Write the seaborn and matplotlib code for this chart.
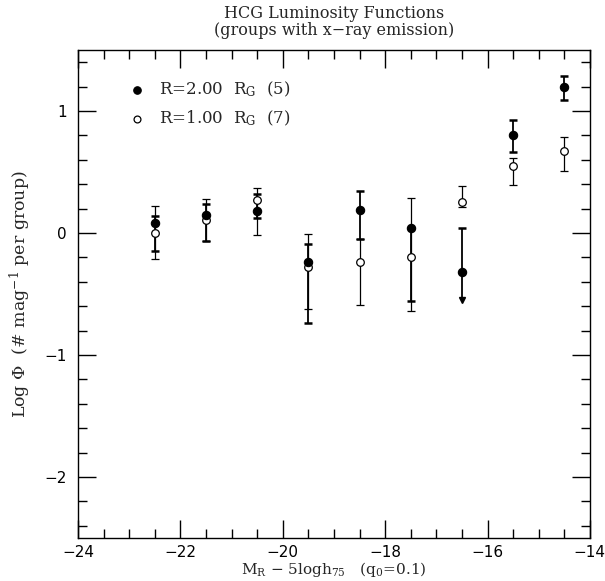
import numpy as np
import pandas as pd
import matplotlib
matplotlib.use("Agg")
import matplotlib.pyplot as plt
from matplotlib.ticker import MultipleLocator
import seaborn as sns

# --- data ---
mag = [-22.5, -21.5, -20.5, -19.5, -18.5, -17.5, -16.5, -15.5, -14.5]

# R = 2.00 R_G (filled)
phi_2rg = [0.08, 0.145, 0.18, -0.24, 0.19, 0.04, -0.32, 0.805, 1.20]
hi_2rg = [0.14, 0.24, 0.316, -0.09, 0.34, 0.04, 0.04, 0.93, 1.29]
lo_2rg = [-0.15, -0.065, 0.12, -0.74, -0.05, -0.56, -0.55, 0.665, 1.09]
uplim_2rg = [False, False, False, False, False, False, True, False, False]

# R = 1.00 R_G (open)
phi_1rg = [0.0, 0.11, 0.27, -0.28, -0.24, -0.20, 0.25, 0.55, 0.67]
hi_1rg = [0.225, 0.28, 0.37, -0.008, -0.05, 0.285, 0.385, 0.615, 0.785]
lo_1rg = [-0.21, -0.065, -0.016, -0.62, -0.59, -0.64, 0.21, 0.39, 0.505]

label_2rg = r"R=2.00  R$_{\rm G}$  (5)"
label_1rg = r"R=1.00  R$_{\rm G}$  (7)"

df2 = pd.DataFrame({"mag": mag, "phi": phi_2rg, "hi": hi_2rg, "lo": lo_2rg, "uplim": uplim_2rg})
df1 = pd.DataFrame({"mag": mag, "phi": phi_1rg, "hi": hi_1rg, "lo": lo_1rg})

sns.set_style("ticks")
plt.rcParams["font.family"] = ["DejaVu Sans"]
plt.rcParams["mathtext.fontset"] = "dejavuserif"

fig = plt.figure(figsize=(6.05, 5.81), dpi=100)
ax = fig.add_axes([0.129, 0.074, 0.846, 0.840])

# error bars: open series (thin)
ax.errorbar(df1["mag"], df1["phi"],
            yerr=[df1["phi"] - df1["lo"], df1["hi"] - df1["phi"]],
            fmt="none", ecolor="black", elinewidth=0.9, capsize=3, capthick=0.9, zorder=2)

# error bars: filled series (thicker); upper limits get an arrow
normal = df2[~df2["uplim"]]
ax.errorbar(normal["mag"], normal["phi"],
            yerr=[normal["phi"] - normal["lo"], normal["hi"] - normal["phi"]],
            fmt="none", ecolor="black", elinewidth=1.3, capsize=3, capthick=1.8, zorder=2)
lim = df2[df2["uplim"]]
ax.errorbar(lim["mag"], lim["phi"], yerr=[[0] * len(lim), lim["hi"] - lim["phi"]],
            fmt="none", ecolor="black", elinewidth=1.3, capsize=3, capthick=1.8, zorder=2)
ax.vlines(lim["mag"], lim["lo"], lim["phi"], color="black", lw=1.3, zorder=2)
ax.plot(lim["mag"], lim["lo"], marker="v", ls="none", color="black", ms=5, zorder=3)

sns.scatterplot(data=df2, x="mag", y="phi", ax=ax, marker="o", s=36,
                color="black", edgecolor="black", linewidth=0.8, zorder=4, label=label_2rg)
sns.scatterplot(data=df1, x="mag", y="phi", ax=ax, marker="o", s=30,
                facecolor="white", edgecolor="black", linewidth=0.9, zorder=3, label=label_1rg)

ax.set_xlim(-24, -14)
ax.set_ylim(-2.5, 1.5)
ax.xaxis.set_major_locator(MultipleLocator(2))
ax.xaxis.set_minor_locator(MultipleLocator(0.5))
ax.yaxis.set_major_locator(MultipleLocator(1))
ax.yaxis.set_minor_locator(MultipleLocator(0.2))
ax.tick_params(which="both", direction="in", top=True, right=True, width=1, colors="black")
ax.tick_params(which="major", length=13, labelsize=11)
ax.tick_params(axis="x", which="major", pad=5)
ax.tick_params(axis="y", which="major", pad=8)
ax.tick_params(which="minor", length=6.5)
ax.set_xticks([-24, -22, -20, -18, -16, -14])
ax.set_xticklabels(["\u221224", "\u221222", "\u221220", "\u221218", "\u221216", "\u221214"])
ax.set_yticks([-2, -1, 0, 1])
ax.set_yticklabels(["\u22122", "\u22121", "0", "1"])
for sp in ax.spines.values():
    sp.set_linewidth(1)
    sp.set_color("black")

serif = ["DejaVu Serif"]
ax.set_title("HCG Luminosity Functions\n(groups with x\u2212ray emission)",
             fontsize=11.5, family=serif, linespacing=1.0, pad=11)
ax.set_xlabel(r"M$_{\rm R}$ $-$ 5logh$_{75}$   (q$_0$=0.1)", fontsize=11, family=serif, labelpad=0)
ax.set_ylabel(r"Log $\Phi$  (# mag$^{-1}$ per group)", fontsize=12.5, family=serif, labelpad=8)

leg = ax.legend(loc="upper left", bbox_to_anchor=(0.07, 0.97), frameon=False,
                handletextpad=0.8, labelspacing=0.6, prop={"family": serif, "size": 12},
                markerscale=0.9, handlelength=1.0)

fig.savefig("out.png", dpi=100)
